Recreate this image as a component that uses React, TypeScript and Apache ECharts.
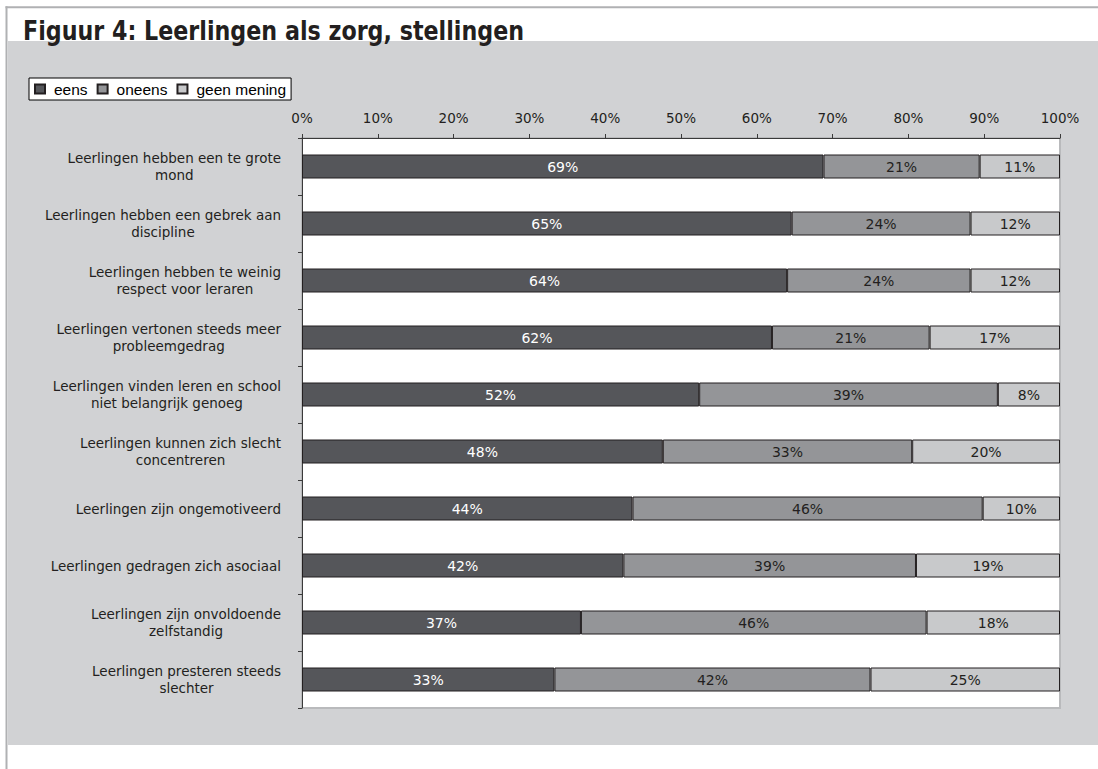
import React, { useEffect, useRef } from 'react';
import * as echarts from 'echarts';

const title = 'Figuur 4: Leerlingen als zorg, stellingen';

const categories = [
  'Leerlingen hebben een te grote\nmond',
  'Leerlingen hebben een gebrek aan\ndiscipline',
  'Leerlingen hebben te weinig\nrespect voor leraren',
  'Leerlingen vertonen steeds meer\nprobleemgedrag',
  'Leerlingen vinden leren en school\nniet belangrijk genoeg',
  'Leerlingen kunnen zich slecht\nconcentreren',
  'Leerlingen zijn ongemotiveerd',
  'Leerlingen gedragen zich asociaal',
  'Leerlingen zijn onvoldoende\nzelfstandig',
  'Leerlingen presteren steeds\nslechter',
];

const seriesNames = ['eens', 'oneens', 'geen mening'];

const eens = [68.8, 64.6, 64.0, 62.0, 52.4, 47.6, 43.6, 42.4, 36.8, 33.3];
const oneens = [20.6, 23.6, 24.2, 20.8, 39.4, 32.9, 46.2, 38.6, 45.6, 41.7];
const geenMening = [10.6, 11.8, 11.8, 17.2, 8.2, 19.5, 10.2, 19.0, 17.6, 25.0];

const colors = ['#55565a', '#949598', '#c8c9cb'];
const labelColors = ['#ffffff', '#231f20', '#231f20'];

const labelFont = 'DejaVu Sans';

function makeSeries(name: string, data: number[], color: string, labelColor: string) {
  return {
    name,
    type: 'bar',
    stack: 'total',
    data,
    barWidth: 24,
    itemStyle: { color, borderColor: '#231f20', borderWidth: 1 },
    label: {
      show: true,
      position: 'inside',
      formatter: (p: any) => Math.round(p.value) + '%',
      color: labelColor,
      fontFamily: labelFont,
      fontSize: 14,
      textBorderWidth: 0,
    },
    emphasis: { disabled: true },
  };
}

export default function App() {
  const ref = useRef<HTMLDivElement>(null);
  useEffect(() => {
    const chart = echarts.init(ref.current!, null, { renderer: 'svg' });
    const option: any = {
      animation: false,
      backgroundColor: '#ffffff',
      graphic: [
        {
          type: 'rect',
          z: -10,
          shape: { x: 8, y: 41, width: 1090, height: 704 },
          style: { fill: '#d1d2d4' },
          silent: true,
        },
        {
          type: 'line',
          z: -5,
          shape: { x1: 5.5, y1: 7.3, x2: 1098, y2: 7.3 },
          style: { stroke: '#b0b1b3', lineWidth: 2 },
          silent: true,
        },
        {
          type: 'line',
          z: -5,
          shape: { x1: 6.5, y1: 6.3, x2: 6.5, y2: 769 },
          style: { stroke: '#b0b1b3', lineWidth: 2 },
          silent: true,
        },
        {
          type: 'text',
          z: 10,
          x: 23,
          y: 30.5,
          scaleX: 0.823,
          style: {
            text: title,
            fontFamily: 'DejaVu Sans',
            fontWeight: 'bold',
            fontSize: 27,
            fill: '#231f20',
            verticalAlign: 'middle',
            align: 'left',
          },
          silent: true,
        },
      ],
      legend: {
        data: seriesNames,
        left: 29,
        top: 78,
        orient: 'horizontal',
        itemWidth: 10,
        itemHeight: 9,
        itemGap: 9,
        padding: [3, 5, 3, 5],
        backgroundColor: '#ffffff',
        borderColor: '#000000',
        borderWidth: 1,
        selectedMode: false,
        icon: 'rect',
        textStyle: {
          fontFamily: 'Liberation Sans',
          fontSize: 15.5,
          color: '#000000',
          padding: [0, 0, 0, 4],
        },
      },
      grid: {
        left: 302,
        right: 38,
        top: 138,
        bottom: 61,
        show: true,
        backgroundColor: '#ffffff',
        borderColor: '#b9babc',
        borderWidth: 2,
      },
      xAxis: {
        type: 'value',
        position: 'top',
        min: 0,
        max: 100,
        interval: 10,
        axisLine: { show: true, lineStyle: { color: '#3a3a3a', width: 1 } },
        axisTick: { show: true, length: 4, lineStyle: { color: '#3a3a3a' } },
        axisLabel: {
          formatter: '{value}%',
          margin: 13,
          color: '#231f20',
          fontFamily: labelFont,
          fontSize: 13.5,
        },
        splitLine: { show: false },
      },
      yAxis: {
        type: 'category',
        inverse: true,
        data: categories,
        axisLine: { show: true, lineStyle: { color: '#3a3a3a', width: 1 } },
        axisTick: { show: true, length: 4, lineStyle: { color: '#3a3a3a' } },
        axisLabel: {
          margin: 21,
          formatter: (v: string) =>
            v
              .split('\n')
              .map((l) => `{c|${l}}`)
              .join('\n'),
          rich: {
            c: {
              align: 'center',
              fontFamily: labelFont,
              fontSize: 13.5,
              lineHeight: 17,
              color: '#231f20',
            },
          },
        },
      },
      series: [
        makeSeries(seriesNames[0], eens, colors[0], labelColors[0]),
        makeSeries(seriesNames[1], oneens, colors[1], labelColors[1]),
        makeSeries(seriesNames[2], geenMening, colors[2], labelColors[2]),
      ],
    };
    chart.setOption(option);
    return () => chart.dispose();
  }, []);
  return (
    <div
      ref={ref}
      style={{ position: 'absolute', left: 0, top: 0, width: 1098, height: 769 }}
    />
  );
}
